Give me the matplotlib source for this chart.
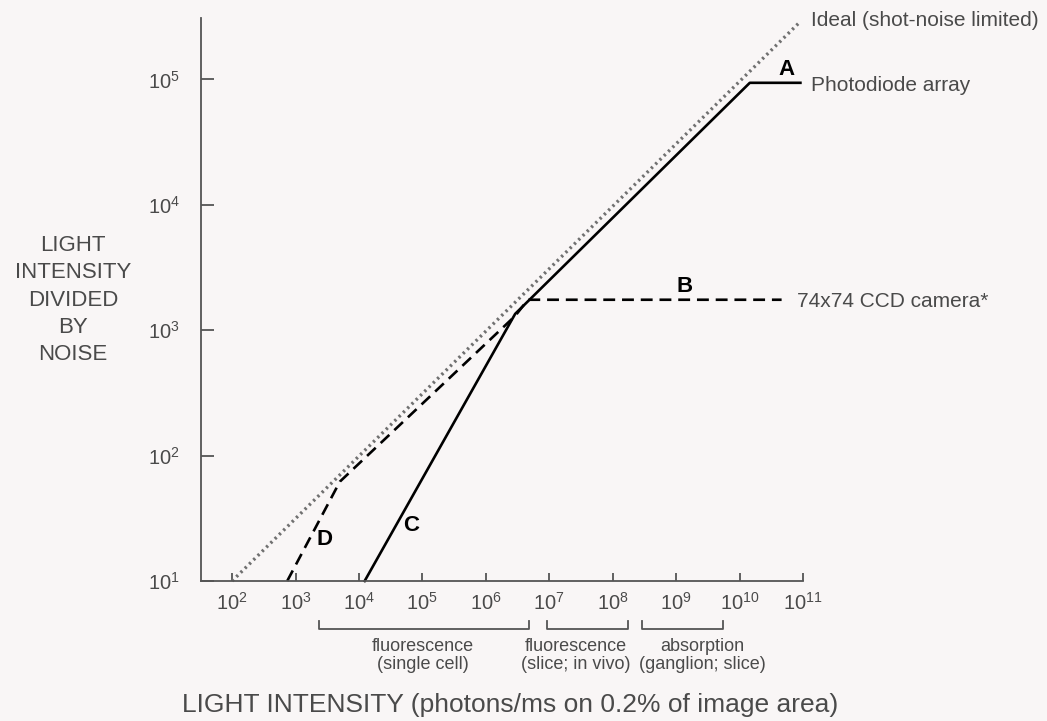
import numpy as np
import matplotlib
matplotlib.use("Agg")
import matplotlib.pyplot as plt

plt.rcParams['font.family'] = ['Liberation Sans', 'DejaVu Sans']
plt.rcParams['mathtext.default'] = 'regular'

# ideal (shot-noise limited)
ideal_x = [1e2, 8.5e10]
ideal_y = [10, 2.8e5]

# photodiode array: C then A
pda_x = [1.23e4, 2.9e6, 1.45e10, 9.1e10]
pda_y = [10, 1.35e3, 9.4e4, 9.4e4]

# 74x74 CCD camera: D then B
ccd_x = [7.4e2, 5.0e3, 2.9e6, 4.6e6, 4.6e10]
ccd_y = [10, 62, 1.3e3, 1.75e3, 1.75e3]

xticks = [10.0**k for k in range(2, 12)]
yticks = [10.0**k for k in range(1, 6)]

# ranges below the x axis
range_lo = [2.35e3, 9.1e6, 2.95e8]
range_hi = [4.8e6, 1.75e8, 5.4e9]
range_text_x = [1.02e5, 2.6e7, 2.6e9]
range_text = ["fluorescence\n(single cell)",
              "fluorescence\n(slice; in vivo)",
              "absorption\n(ganglion; slice)"]

bg = '#f9f6f6'
grey = '#4a4a4a'

fig = plt.figure(figsize=(10.47, 7.21), dpi=100, facecolor=bg)
ax = fig.add_axes([201/1047, 1 - 581/721, 602/1047, 563/721], facecolor=bg)
ax.set_xscale('log')
ax.set_yscale('log')
ax.set_xlim(10**1.51, 1e11)
ax.set_ylim(10, 10**5.49)

ax.plot(ideal_x, ideal_y, color='#707070', lw=2.4, ls=(0, (0.7, 1.1)), clip_on=False)
ax.plot(pda_x, pda_y, color='black', lw=1.9, clip_on=False)
ax.plot(ccd_x, ccd_y, color='black', lw=1.9, ls=(0, (4.5, 2.6)), clip_on=False)

for s in ['top', 'right']:
    ax.spines[s].set_visible(False)
for s in ['left', 'bottom']:
    ax.spines[s].set_color('#555555')
    ax.spines[s].set_linewidth(1.3)

ax.set_xticks(xticks)
ax.set_yticks(yticks)
ax.set_xticklabels([r'$10^{%d}$' % k for k in range(2, 12)])
ax.set_yticklabels([r'$10^{%d}$' % k for k in range(1, 6)])
ax.minorticks_off()
ax.tick_params(axis='y', direction='in', length=9, width=1.3, color='#555555',
               labelsize=14.5, labelcolor=grey, pad=15)
ax.tick_params(axis='x', direction='in', length=6, width=1.3, color='#555555',
               labelsize=14.5, labelcolor=grey, pad=8)

# curve letters
lab = dict(fontsize=16, fontweight='bold', color='black',
           ha='center', va='center')
ax.text(10**10.74, 10**5.08, 'A', **lab)
ax.text(10**9.13, 10**3.35, 'B', **lab)
ax.text(10**4.83, 10**1.44, 'C', **lab)
ax.text(10**3.46, 10**1.33, 'D', **lab)

txt = dict(fontsize=15, color=grey, ha='left', va='center')
ax.text(10**11.13, 10**5.47, 'Ideal (shot-noise limited)', **txt)
ax.text(10**11.13, 10**4.95, 'Photodiode array', **txt)
ax.text(10**10.9, 10**3.23, '74x74 CCD camera*', **txt)

# brackets
tr = ax.get_xaxis_transform()
for lo, hi in zip(range_lo, range_hi):
    ax.plot([lo, lo, hi, hi], [-0.071, -0.085, -0.085, -0.071], color='#555555',
            lw=1.3, transform=tr, clip_on=False)
for x, t in zip(range_text_x, range_text):
    ax.text(x, -0.101, t, transform=tr, ha='center', va='top', fontsize=13,
            color=grey, linespacing=1.1)

fig.text(510/1047, 1 - 705/721, 'LIGHT INTENSITY (photons/ms on 0.2% of image area)',
         ha='center', va='center', fontsize=19, color=grey)
fig.text(73/1047, 1 - 300/721, 'LIGHT\nINTENSITY\nDIVIDED\nBY\nNOISE',
         ha='center', va='center', fontsize=16, color=grey, linespacing=1.4)

fig.savefig('out.png', dpi=100, facecolor=bg)
